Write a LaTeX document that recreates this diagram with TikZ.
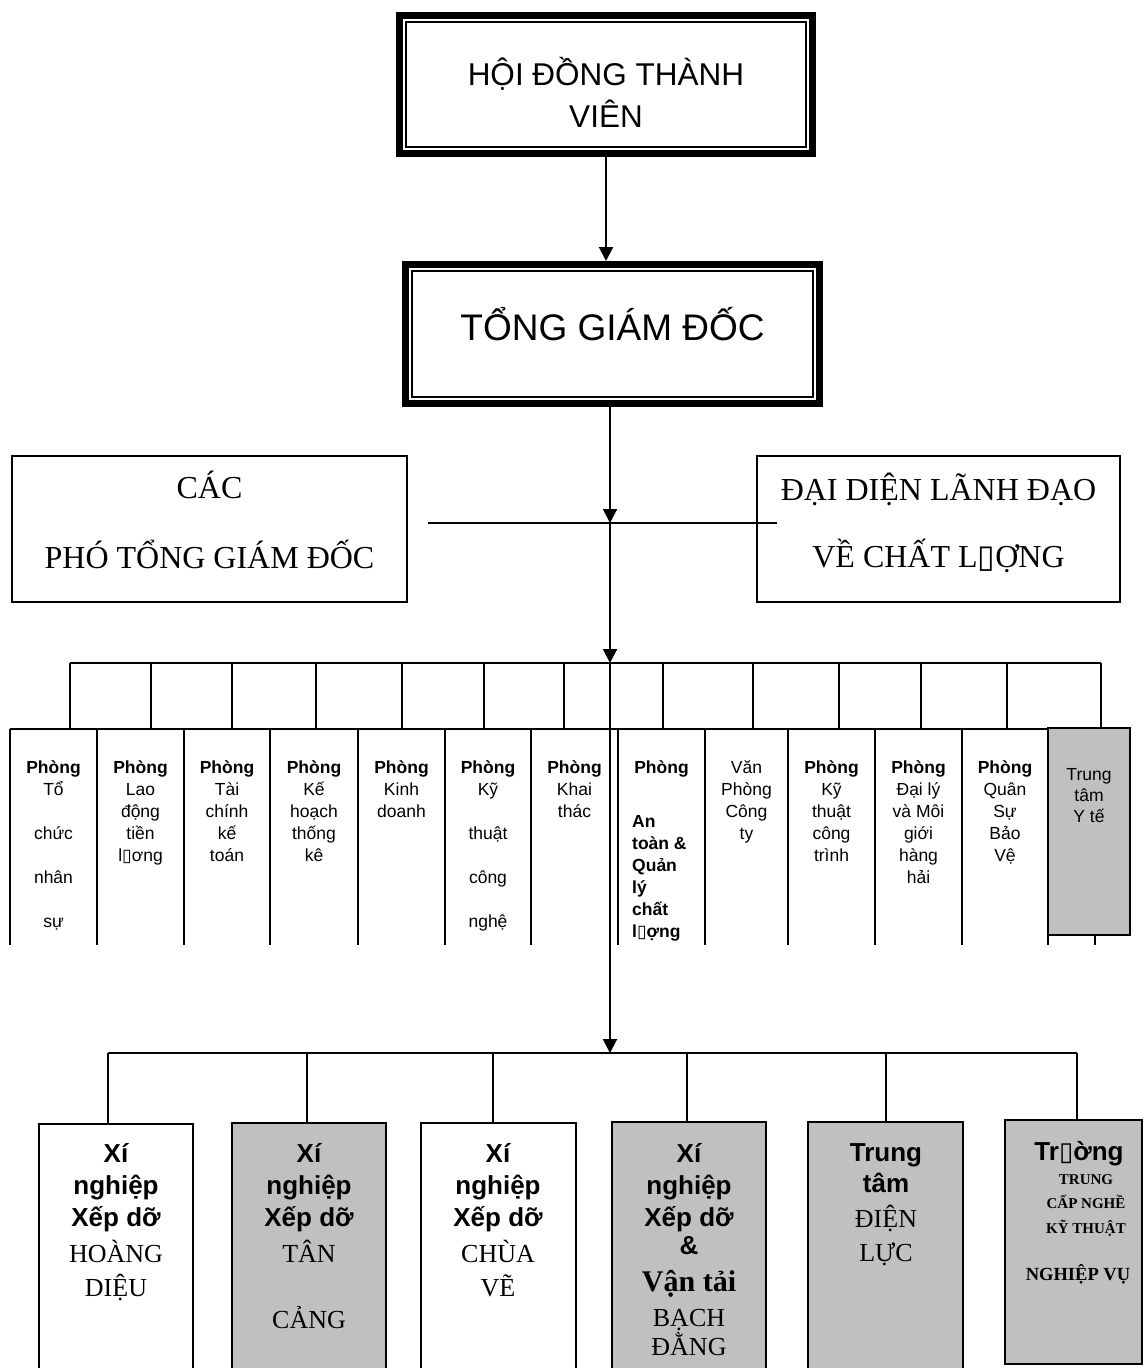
\documentclass[tikz,border=0pt]{standalone}
\usepackage{fontspec}
\setmainfont{Liberation Serif}
\newfontfamily\arial{Liberation Sans}
\newfontfamily\dejavu{DejaVu Sans}
\usetikzlibrary{arrows.meta}
% placeholder glyph printed where the legacy font lacks a letter
\newcommand\tofu{{\dejavu\symbol{"25AF}}}
\definecolor{unitgray}{RGB}{192,192,192}

\begin{document}
\begin{tikzpicture}[x=1pt,y=-1pt,
  conn/.style={line width=1.8pt},
  gridline/.style={line width=2.3pt},
  flow/.style={line width=2pt,-{Triangle[width=14pt,length=14pt]}},
  frame/.style={draw,line width=2.4pt,rectangle,inner sep=0pt,outer sep=0pt,anchor=north west},
  heavy/.style={draw,line width=7pt,rectangle,inner sep=0pt,outer sep=0pt,anchor=north west},
  lbl/.style={inner sep=0pt,anchor=base},
  sansA/.style={lbl,font=\arial\fontsize{31.5}{38}\selectfont},
  sansB/.style={lbl,font=\arial\fontsize{37}{44}\selectfont},
  serifA/.style={lbl,font=\fontsize{32}{38}\selectfont},
  dep/.style={lbl,font=\arial\fontsize{17.5}{21}\selectfont},
  depb/.style={lbl,font=\arial\bfseries\fontsize{17.5}{21}\selectfont},
  unitb/.style={lbl,font=\arial\bfseries\fontsize{26}{31}\selectfont},
  unitr/.style={lbl,font=\fontsize{26}{31}\selectfont},
  unitrb/.style={lbl,font=\bfseries\fontsize{30}{36}\selectfont},
  schs/.style={lbl,font=\bfseries\fontsize{15}{18}\selectfont},
  schl/.style={lbl,font=\bfseries\fontsize{18.5}{22}\selectfont},
]
\useasboundingbox (0,0) rectangle (1145,1368);
\clip (0,0) rectangle (1145,1368);

% ---------- board and general director ----------
\node[heavy,minimum width=413pt,minimum height=138pt] (hdtv) at (399.5,15.5) {};
\draw[line width=1.5pt] ([xshift=6.5pt,yshift=-6.5pt]hdtv.north west) rectangle ([xshift=-6.5pt,yshift=6.5pt]hdtv.south east);
\node[sansA] (hdtv-1) at (606,85) {HỘI ĐỒNG THÀNH};
\node[sansA] (hdtv-2) at (606,127) {VIÊN};

\node[heavy,minimum width=414pt,minimum height=139pt] (tgd) at (405.5,264.5) {};
\draw[line width=1.5pt] ([xshift=6.5pt,yshift=-6.5pt]tgd.north west) rectangle ([xshift=-6.5pt,yshift=6.5pt]tgd.south east);
\node[sansB] (tgd-1) at (612.5,340) {TỔNG GIÁM ĐỐC};

\draw[flow,shorten >=3.5pt] (hdtv.south) -- (hdtv.south |- tgd.north);

% ---------- main spine ----------
\coordinate (s0) at ([xshift=-2.5pt]tgd.south);
\coordinate (s1) at (610,523);
\coordinate (s2) at (610,663);
\coordinate (s3) at (610,1053);
\draw[flow] (s0) -- (s1);
\draw[flow] (s1) -- (s2);
\draw[flow] (s2) -- (s3);

% ---------- deputies and quality representative ----------
\node[frame,minimum width=395pt,minimum height=146pt] (pho) at (12,456) {};
\node[serifA] (pho-1) at (209.5,498) {CÁC};
\node[serifA] (pho-2) at (209.5,568) {PHÓ TỔNG GIÁM ĐỐC};

\node[frame,minimum width=363pt,minimum height=146pt] (qual) at (757,456) {};
\node[serifA] (qual-1) at (938.5,500) {ĐẠI DIỆN LÃNH ĐẠO};
\node[serifA] (qual-2) at (938.5,567) {VỀ CHẤT L\tofu{}ỢNG};

\coordinate (hl) at (428,523);
\coordinate (hr) at (777,523);
\draw[conn] (hl) -- (hr);

% ---------- departments ----------
\foreach \x [count=\i] in {70,151,232,316,402,484,564,663,753,839,921,1007,1101} {
  \coordinate (dt\i) at (\x,729);
  \draw[conn] (dt\i |- s2) -- (dt\i);
}
\draw[conn] (dt1 |- s2) -- (dt13 |- s2);

\draw[gridline] (10,729) -- (1048,729);
\foreach \x in {10,97,184,270,358,445,531,618,705,788,875,962}
  \draw[gridline] (\x,729) -- (\x,945);

\node[frame,fill=unitgray,minimum width=82pt,minimum height=207pt] (yte) at (1048,728) {};
\draw[gridline] (yte.south west) -- ++(0,10);
\draw[gridline] ([xshift=47pt]yte.south west) -- ++(0,10);

% column 1
\node[depb] (d1-0) at (53.5,773) {Phòng};
\foreach \t [count=\k] in {Tổ,chức,nhân,sự}
  \node[dep] (d1-\k) at (53.5,751+44*\k) {\t};
% column 2
\node[depb] (d2-0) at (140.5,773) {Phòng};
\foreach \t [count=\k] in {Lao,động,tiền,l\tofu{}ơng}
  \node[dep] (d2-\k) at (140.5,773+22*\k) {\t};
% column 3
\node[depb] (d3-0) at (227,773) {Phòng};
\foreach \t [count=\k] in {Tài,chính,kế,toán}
  \node[dep] (d3-\k) at (227,773+22*\k) {\t};
% column 4
\node[depb] (d4-0) at (314,773) {Phòng};
\foreach \t [count=\k] in {Kế,hoạch,thống,kê}
  \node[dep] (d4-\k) at (314,773+22*\k) {\t};
% column 5
\node[depb] (d5-0) at (401.5,773) {Phòng};
\foreach \t [count=\k] in {Kinh,doanh}
  \node[dep] (d5-\k) at (401.5,773+22*\k) {\t};
% column 6
\node[depb] (d6-0) at (488,773) {Phòng};
\foreach \t [count=\k] in {Kỹ,thuật,công,nghệ}
  \node[dep] (d6-\k) at (488,751+44*\k) {\t};
% column 7
\node[depb] (d7-0) at (574.5,773) {Phòng};
\foreach \t [count=\k] in {Khai,thác}
  \node[dep] (d7-\k) at (574.5,773+22*\k) {\t};
% column 8
\node[depb] (d8-0) at (661.5,773) {Phòng};
\foreach \t [count=\k] in {An,toàn \&,Quản,lý,chất,l\tofu{}ợng}
  \node[depb,anchor=base west] (d8-\k) at (632,805+22*\k) {\t};
% column 9
\foreach \t [count=\k] in {Văn,Phòng,Công,ty}
  \node[dep] (d9-\k) at (746.5,751+22*\k) {\t};
% column 10
\node[depb] (d10-0) at (831.5,773) {Phòng};
\foreach \t [count=\k] in {Kỹ,thuật,công,trình}
  \node[dep] (d10-\k) at (831.5,773+22*\k) {\t};
% column 11
\node[depb] (d11-0) at (918.5,773) {Phòng};
\foreach \t [count=\k] in {Đại lý,và Môi,giới,hàng,hải}
  \node[dep] (d11-\k) at (918.5,773+22*\k) {\t};
% column 12
\node[depb] (d12-0) at (1005,773) {Phòng};
\foreach \t [count=\k] in {Quân,Sự,Bảo,Vệ}
  \node[dep] (d12-\k) at (1005,773+22*\k) {\t};
% medical centre
\foreach \t [count=\k] in {Trung,tâm,Y tế}
  \node[dep] (d13-\k) at (1089,759+21*\k) {\t};

% ---------- subsidiary units ----------
\node[frame,minimum width=154pt,minimum height=260pt] (u1) at (39,1124) {};
\node[frame,fill=unitgray,minimum width=154pt,minimum height=260pt] (u2) at (232,1123) {};
\node[frame,minimum width=155pt,minimum height=260pt] (u3) at (421,1123) {};
\node[frame,fill=unitgray,minimum width=154pt,minimum height=260pt] (u4) at (612,1122) {};
\node[frame,fill=unitgray,minimum width=155pt,minimum height=260pt] (u5) at (808,1122) {};
\node[frame,fill=unitgray,minimum width=137pt,minimum height=244pt] (u6) at (1005,1120) {};

\coordinate (ul) at (108,1053);
\coordinate (ur) at (1077,1053);
\draw[conn] (ul) -- (ur);
\foreach \x/\b in {108/u1,307/u2,493/u3,687/u4,886/u5,1077/u6}
  \draw[conn] (\x,1053) -- (\x,0 |- \b.north);

% unit 1
\foreach \t [count=\k] in {Xí,nghiệp,Xếp dỡ}
  \node[unitb] (u1-\k) at (116,1130+32*\k) {\t};
\node[unitr] (u1-4) at (116,1262) {HOÀNG};
\node[unitr] (u1-5) at (116,1296) {DIỆU};
% unit 2
\foreach \t [count=\k] in {Xí,nghiệp,Xếp dỡ}
  \node[unitb] (u2-\k) at (309,1130+32*\k) {\t};
\node[unitr] (u2-4) at (309,1262) {TÂN};
\node[unitr] (u2-5) at (309,1328) {CẢNG};
% unit 3
\foreach \t [count=\k] in {Xí,nghiệp,Xếp dỡ}
  \node[unitb] (u3-\k) at (498,1130+32*\k) {\t};
\node[unitr] (u3-4) at (498,1262) {CHÙA};
\node[unitr] (u3-5) at (498,1296) {VẼ};
% unit 4
\foreach \t [count=\k] in {Xí,nghiệp,Xếp dỡ}
  \node[unitb] (u4-\k) at (689,1130+32*\k) {\t};
\node[unitb] (u4-4) at (689,1254) {\&};
\node[unitrb] (u4-5) at (689,1291) {Vận tải};
\node[unitr] (u4-6) at (689,1326) {BẠCH};
\node[unitr] (u4-7) at (689,1355) {ĐẰNG};
% unit 5
\node[unitb] (u5-1) at (886,1161) {Trung};
\node[unitb] (u5-2) at (886,1192) {tâm};
\node[unitr] (u5-3) at (886,1227) {ĐIỆN};
\node[unitr] (u5-4) at (886,1261) {LỰC};
% unit 6
\node[unitb] (u6-1) at (1079,1160) {Tr\tofu{}ờng};
\node[schs] (u6-2) at (1086,1184) {TRUNG};
\node[schs] (u6-3) at (1086,1208) {CẤP NGHỀ};
\node[schs] (u6-4) at (1086,1233) {KỸ THUẬT};
\node[schl] (u6-5) at (1078,1280) {NGHIỆP VỤ};
\end{tikzpicture}
\end{document}
